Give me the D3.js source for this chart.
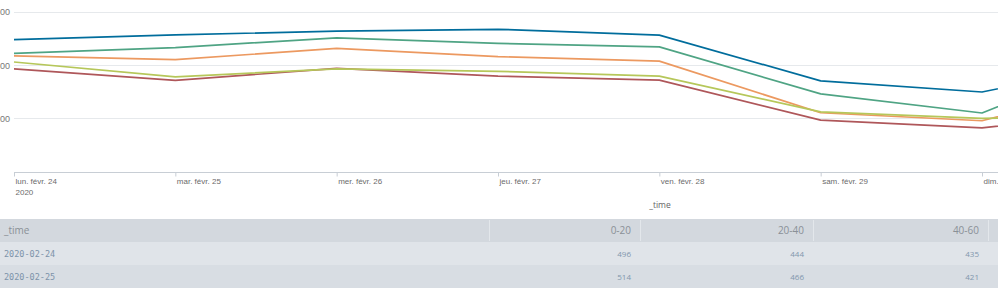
<!DOCTYPE html>
<html>
<head>
<meta charset="utf-8">
<script src="https://cdn.jsdelivr.net/npm/d3@7"></script>
<style>
  html, body { margin: 0; padding: 0; background: #fff; overflow: hidden; }
  svg { display: block; }
</style>
</head>
<body>
<div id="chart"></div>
<script>
const W = 998, H = 292;

// data
const days = ["2020-02-24", "2020-02-25", "2020-02-26", "2020-02-27", "2020-02-28", "2020-02-29", "2020-03-01", "2020-03-02"];
const dayLabels = ["lun. févr. 24", "mar. févr. 25", "mer. févr. 26", "jeu. févr. 27", "ven. févr. 28", "sam. févr. 29", "dim. mars 1", "lun. mars 2"];
const seriesNames = ["0-20", "20-40", "40-60", "60-80", "80-100"];
const s0_20   = [496, 514, 528, 535, 513, 341, 299, 423];
const s20_40  = [444, 466, 503, 482, 469, 292, 220, 460];
const s40_60  = [435, 421, 463, 432, 415, 221, 191, 349];
const s60_80  = [386, 343, 388, 359, 344, 193, 164, 228];
const s80_100 = [412, 356, 386, 377, 359, 224, 200, 205];
const yTicks = [0, 200, 400, 600];
const tableRows = ["2020-02-24", "2020-02-25"];
const tableCols = ["0-20", "20-40", "40-60"];

const colors = ["#006d9c", "#4fa484", "#ec9960", "#af575a", "#b6c75a"];
const seriesVals = [s0_20, s20_40, s40_60, s60_80, s80_100];

const parse = d3.utcParse("%Y-%m-%d");
const dates = days.map(parse);

const svg = d3.select("#chart").append("svg")
    .attr("width", W).attr("height", H)
    .style("font-family", "'Open Sans', sans-serif");

const x = d3.scaleUtc()
    .domain([dates[0], dates[6]])
    .range([14, 982]);

const y = d3.scaleLinear()
    .domain([0, 600])
    .range([171.5, 12]);

// grid
svg.append("g")
    .selectAll("line")
    .data(yTicks.filter(d => d > 0))
    .join("line")
    .attr("x1", 14).attr("x2", W)
    .attr("y1", d => Math.round(y(d)) + 0.5)
    .attr("y2", d => Math.round(y(d)) + 0.5)
    .attr("stroke", "#e6e9ec");

// y axis labels (clipped on the left in the reference)
const yAxis = svg.append("g")
    .attr("transform", "translate(14,0)")
    .call(d3.axisLeft(y).tickValues(yTicks.filter(d => d > 0)).tickSize(0).tickPadding(4));
yAxis.select(".domain").remove();
yAxis.selectAll("text").attr("fill", "#777").style("font-size", "9px");

// x axis
const xAxis = svg.append("g")
    .attr("transform", `translate(0,${Math.round(y(0)) + 0.5})`)
    .call(d3.axisBottom(x).tickValues(dates).tickSize(4).tickSizeOuter(0)
        .tickFormat((d, i) => dayLabels[i]));
xAxis.select(".domain").attr("stroke", "#c8ced5").attr("d", `M14,0H${W + 200}`);
xAxis.selectAll(".tick line").attr("stroke", "#c8ced5");
xAxis.selectAll(".tick text")
    .attr("text-anchor", "start")
    .attr("x", 1).attr("y", 6)
    .attr("fill", "#6b6b6b")
    .style("font-size", "8px");
xAxis.select(".tick text")
    .append("tspan").attr("x", 1).attr("dy", "1.3em").text("2020");

svg.append("text")
    .attr("x", 660).attr("y", 208)
    .attr("text-anchor", "middle")
    .attr("fill", "#666")
    .style("font-size", "8.5px")
    .text("_time");

// lines
const line = d3.line()
    .x((d, i) => x(dates[i]))
    .y(d => y(d));

svg.append("g")
    .selectAll("path")
    .data(seriesVals)
    .join("path")
    .attr("d", line)
    .attr("fill", "none")
    .attr("stroke", (d, i) => colors[i])
    .attr("stroke-width", 1.7)
    .attr("stroke-linejoin", "round");

// table
const colEdges = [0, 489, 640, 813, 988, W];
const headY = 219, rowH = 23;
const table = svg.append("g");

table.append("rect")
    .attr("x", 0).attr("y", headY).attr("width", W).attr("height", rowH)
    .attr("fill", "#d3d8de");
table.selectAll("line.sep")
    .data(colEdges.slice(1, -1))
    .join("line")
    .attr("class", "sep")
    .attr("x1", d => d + 0.5).attr("x2", d => d + 0.5)
    .attr("y1", headY + 1).attr("y2", headY + rowH - 1)
    .attr("stroke", "#e3e7eb");

const headTexts = ["_time"].concat(tableCols);
table.selectAll("text.head")
    .data(headTexts)
    .join("text")
    .attr("class", "head")
    .attr("x", (d, i) => i === 0 ? 4 : colEdges[i + 1] - 9)
    .attr("y", headY + rowH / 2 + 3.5)
    .attr("text-anchor", (d, i) => i === 0 ? "start" : "end")
    .attr("fill", "#8a9097")
    .style("font-size", "10px")
    .text(d => d);

const rows = table.selectAll("g.row")
    .data(tableRows)
    .join("g")
    .attr("class", "row")
    .attr("transform", (d, i) => `translate(0,${headY + rowH * (i + 1)})`);

rows.append("rect")
    .attr("width", W).attr("height", rowH)
    .attr("fill", (d, i) => i % 2 === 0 ? "#e0e4e9" : "#d8dde3");

rows.append("text")
    .attr("x", 4).attr("y", rowH / 2 + 3)
    .attr("fill", "#7d93aa")
    .style("font-family", "'DejaVu Sans Mono', monospace")
    .style("font-size", "8.5px")
    .text(d => d);

rows.each(function (d) {
    const di = days.indexOf(d);
    d3.select(this).selectAll("text.num")
        .data(tableCols)
        .join("text")
        .attr("class", "num")
        .attr("x", (c, j) => colEdges[j + 2] - 9)
        .attr("y", rowH / 2 + 3)
        .attr("text-anchor", "end")
        .attr("fill", "#8197ad")
        .style("font-size", "8px")
        .text((c, j) => seriesVals[j][di]);
});
</script>
</body>
</html>
